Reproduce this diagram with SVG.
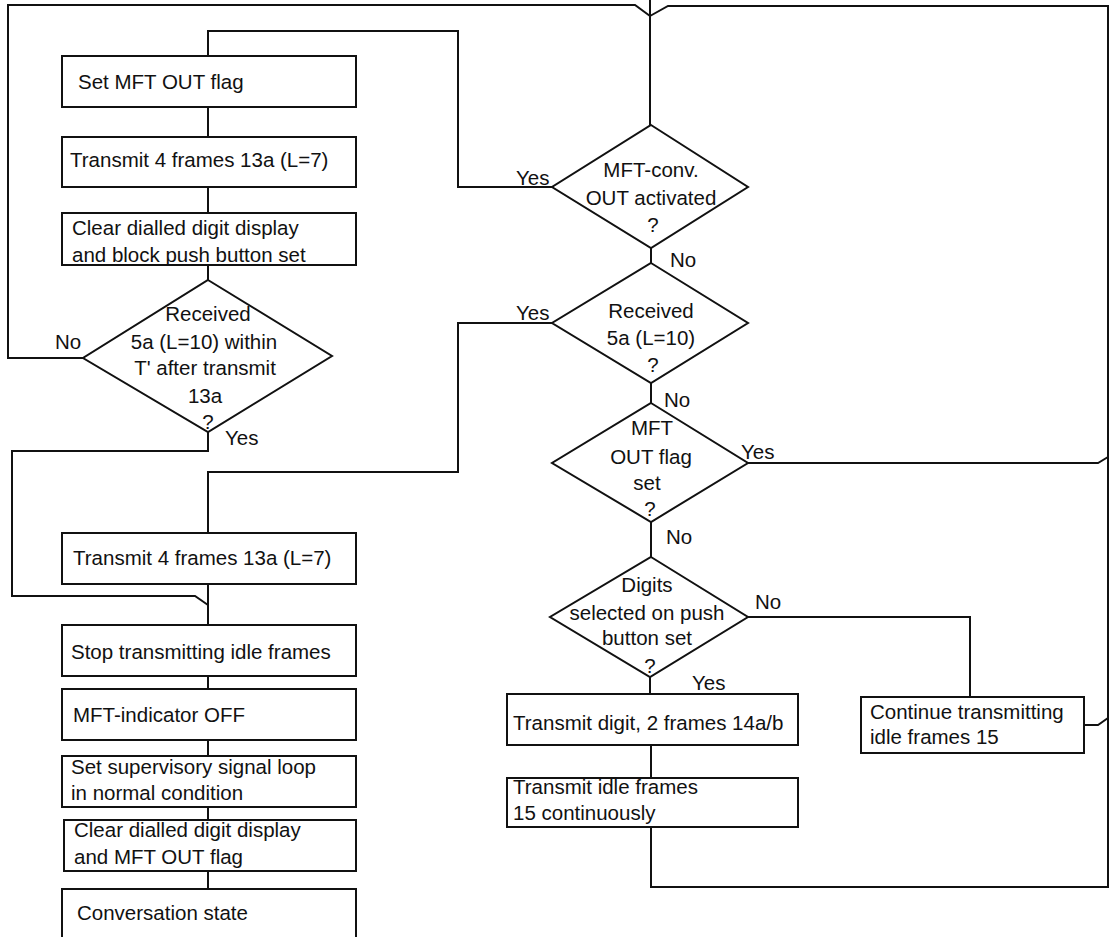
<svg xmlns="http://www.w3.org/2000/svg" width="1110" height="937" viewBox="0 0 1110 937">
<style>
.b{fill:#fff;stroke:#111;stroke-width:2}
.c{fill:none;stroke:#111;stroke-width:2}
text{font-family:"Liberation Sans",Arial,sans-serif;font-size:20.5px;fill:#111}
.m{text-anchor:middle}
</style>
<rect width="1110" height="937" fill="#fff"/>
<g id="connectors" class="c">
<path d="M83,358 H8 V5 H635 L650,16"/>
<path d="M651,827 V887 H1108 V6 H668 L650,16"/>
<path d="M650,0 V125"/>
<path d="M748,463 H1098 L1108,457"/>
<path d="M1084,725 H1098 L1108,718"/>
<path d="M748,617 H970 V697"/>
<path d="M650,677 V694"/>
<path d="M651,745 V778"/>
<path d="M651,248 V263"/>
<path d="M651,383 V403"/>
<path d="M651,522 V557"/>
<path d="M552,187 H458 V31 H208 V56"/>
<path d="M552,323 H458 V472 H208 V533"/>
<path d="M208,107 V137"/>
<path d="M208,187 V213"/>
<path d="M208,265 V280"/>
<path d="M208,432 V451 H12 V596 H195 L208,605"/>
<path d="M208,584 V625"/>
<path d="M208,676 V689"/>
<path d="M208,740 V756"/>
<path d="M208,807 V820"/>
<path d="M208,871 V889"/>
</g>
<g id="set-flag"><rect class="b" x="62" y="56" width="294" height="51"/><text x="78" y="89">Set MFT OUT flag</text></g>
<g id="transmit-13a-1"><rect class="b" x="62" y="137" width="294" height="50"/><text x="70" y="167">Transmit 4 frames 13a (L=7)</text></g>
<g id="clear-block"><rect class="b" x="62" y="213" width="294" height="52"/><text x="72" y="235">Clear dialled digit display</text><text x="72" y="262">and block push button set</text></g>
<g id="received-within"><path class="b" d="M208,280 L332,356 L208,432 L83,358 Z"/>
<text class="m" x="208" y="321">Received</text><text class="m" x="204" y="349">5a (L=10) within</text><text class="m" x="205" y="375">T' after transmit</text><text class="m" x="205" y="403">13a</text><text class="m" x="208" y="429">?</text>
<text x="55" y="349">No</text><text x="225" y="445">Yes</text></g>
<g id="transmit-13a-2"><rect class="b" x="62" y="533" width="294" height="51"/><text x="73" y="565">Transmit 4 frames 13a (L=7)</text></g>
<g id="stop-idle"><rect class="b" x="62" y="625" width="294" height="51"/><text x="71" y="659">Stop transmitting idle frames</text></g>
<g id="indicator-off"><rect class="b" x="62" y="689" width="294" height="51"/><text x="73" y="722">MFT-indicator OFF</text></g>
<g id="supervisory"><rect class="b" x="62" y="756" width="294" height="51"/><text x="71" y="774">Set supervisory signal loop</text><text x="71" y="800">in normal condition</text></g>
<g id="clear-flag"><rect class="b" x="64" y="820" width="292" height="51"/><text x="74" y="837">Clear dialled digit display</text><text x="74" y="864">and MFT OUT flag</text></g>
<g id="conversation"><rect class="b" x="62" y="889" width="294" height="60"/><text x="77" y="920">Conversation state</text></g>
<g id="mft-conv"><path class="b" d="M651,125 L748,187 L651,248 L552,187 Z"/>
<text class="m" x="651" y="177">MFT-conv.</text><text class="m" x="651" y="205">OUT activated</text><text class="m" x="653" y="232">?</text>
<text x="516" y="185">Yes</text><text x="670" y="267">No</text></g>
<g id="received-5a"><path class="b" d="M651,263 L748,323 L651,383 L552,323 Z"/>
<text class="m" x="651" y="318">Received</text><text class="m" x="651" y="345">5a (L=10)</text><text class="m" x="653" y="372">?</text>
<text x="516" y="320">Yes</text><text x="664" y="407">No</text></g>
<g id="flag-set"><path class="b" d="M651,403 L748,463 L651,522 L552,463 Z"/>
<text class="m" x="652" y="435">MFT</text><text class="m" x="651" y="464">OUT flag</text><text class="m" x="647" y="490">set</text><text class="m" x="650" y="516">?</text>
<text x="741" y="459">Yes</text><text x="666" y="544">No</text></g>
<g id="digits"><path class="b" d="M651,557 L748,617 L650,677 L550,617 Z"/>
<text class="m" x="647" y="592">Digits</text><text class="m" x="647" y="620">selected on push</text><text class="m" x="647" y="645">button set</text><text class="m" x="650" y="673">?</text>
<text x="755" y="609">No</text><text x="692" y="690">Yes</text></g>
<g id="transmit-digit"><rect class="b" x="507" y="694" width="291" height="51"/><text x="513" y="730">Transmit digit, 2 frames 14a/b</text></g>
<g id="transmit-idle"><rect class="b" x="507" y="778" width="291" height="49"/><text x="513" y="794">Transmit idle frames</text><text x="513" y="820">15 continuously</text></g>
<g id="continue-idle"><rect class="b" x="861" y="697" width="223" height="56"/><text x="870" y="719">Continue transmitting</text><text x="870" y="744">idle frames 15</text></g>
</svg>
